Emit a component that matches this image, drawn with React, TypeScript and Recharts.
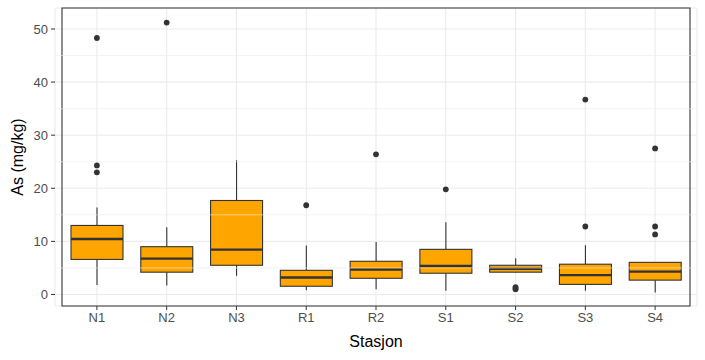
import React from 'react';
import { ComposedChart, Bar, Scatter, XAxis, YAxis, CartesianGrid, ReferenceLine, ReferenceArea, Label } from 'recharts';

const stations = ['N1', 'N2', 'N3', 'R1', 'R2', 'S1', 'S2', 'S3', 'S4'];
const mins = [1.8, 1.7, 3.55, 0.8, 1.0, 0.7, 4.1, 0.7, 0.35];
const q1s = [6.6, 4.2, 5.5, 1.55, 3.05, 4.0, 4.2, 1.9, 2.7];
const medians = [10.45, 6.75, 8.45, 3.2, 4.7, 5.35, 4.85, 3.65, 4.3];
const q3s = [13.0, 9.0, 17.7, 4.55, 6.25, 8.5, 5.5, 5.7, 6.05];
const maxs = [16.4, 12.65, 25.3, 9.2, 9.9, 13.6, 6.8, 9.25, 6.05];
const outliers = [
  [48.3, 24.3, 23.0],
  [51.2],
  [],
  [16.8],
  [26.4],
  [19.8],
  [1.4, 1.2, 1.0],
  [36.7, 12.8],
  [27.5, 12.8, 11.3],
];
const yTicks = [0, 10, 20, 30, 40, 50];
const minorTicks = [5, 15, 25, 35, 45];
const yDomain = [-2.17, 53.95];

const boxData = stations.map((name, i) => ({
  name,
  min: mins[i],
  q1: q1s[i],
  median: medians[i],
  q3: q3s[i],
  max: maxs[i],
}));

const outlierData = stations.flatMap((name, i) => outliers[i].map(v => ({ name, value: v })));

const INK = '#333333';

const BoxShape = (props: any) => {
  const { x, width, payload } = props;
  let { y, height } = props;
  if (height < 0) {
    y = y + height;
    height = -height;
  }
  const span = payload.q3 - payload.q1;
  const ppu = span > 0 ? height / span : 0;
  const toY = (v: number) => y + (payload.q3 - v) * ppu;
  const cx = x + width / 2;
  return (
    <g>
      <line x1={cx} x2={cx} y1={toY(payload.max)} y2={y} stroke={INK} strokeWidth={1.1} />
      <line x1={cx} x2={cx} y1={y + height} y2={toY(payload.min)} stroke={INK} strokeWidth={1.1} />
      <rect x={x} y={y} width={width} height={height} fill="#FFA500" stroke={INK} strokeWidth={1.1} />
      <line x1={x} x2={x + width} y1={toY(payload.median)} y2={toY(payload.median)} stroke={INK} strokeWidth={2.4} />
    </g>
  );
};

const Dot = (props: any) => <circle cx={props.cx} cy={props.cy} r={2.9} fill={INK} />;

export default function App() {
  return (
    <div style={{ position: 'absolute', left: 0, top: 0, background: '#fff' }}>
      <ComposedChart
        width={705}
        height={360}
        data={boxData}
        margin={{ top: 8, right: 8, left: 0, bottom: 0 }}
        style={{ fontFamily: '"Liberation Sans", Arial, sans-serif' }}
      >
        <CartesianGrid stroke="#ebebeb" strokeWidth={1.1} />
        {minorTicks.map(t => (
          <ReferenceLine key={t} y={t} stroke="#ebebeb" strokeWidth={0.6} />
        ))}
        <XAxis
          dataKey="name"
          type="category"
          allowDuplicatedCategory={false}
          padding={{ left: 7, right: 7 }}
          height={54}
          axisLine={false}
          tickLine={{ stroke: INK, strokeWidth: 1 }}
          tickSize={4}
          tick={{ fill: '#4d4d4d', fontSize: 13 }}
          tickMargin={3}
          interval={0}
        >
          <Label
            content={() => (
              <text x={376} y={347} textAnchor="middle" fontSize={16} fill="#000">Stasjon</text>
            )}
          />
        </XAxis>
        <YAxis
          type="number"
          domain={yDomain}
          ticks={yTicks}
          allowDataOverflow
          width={55}
          axisLine={false}
          tickLine={{ stroke: INK, strokeWidth: 1 }}
          tickSize={4}
          tickMargin={3}
          tick={{ fill: '#4d4d4d', fontSize: 13 }}
        >
          <Label
            content={() => (
              <text x={23} y={157} textAnchor="middle" fontSize={16} fill="#000" transform="rotate(-90 23 157)">
                As (mg/kg)
              </text>
            )}
          />
        </YAxis>
        <Bar
          dataKey={(d: any) => [d.q1, d.q3]}
          barSize={52}
          shape={<BoxShape />}
          isAnimationActive={false}
        />
        <Scatter data={outlierData} dataKey="value" shape={<Dot />} isAnimationActive={false} />
        <ReferenceArea y1={yDomain[0]} y2={yDomain[1]} fill="none" stroke={INK} strokeWidth={1.1} ifOverflow="visible" />
      </ComposedChart>
    </div>
  );
}
